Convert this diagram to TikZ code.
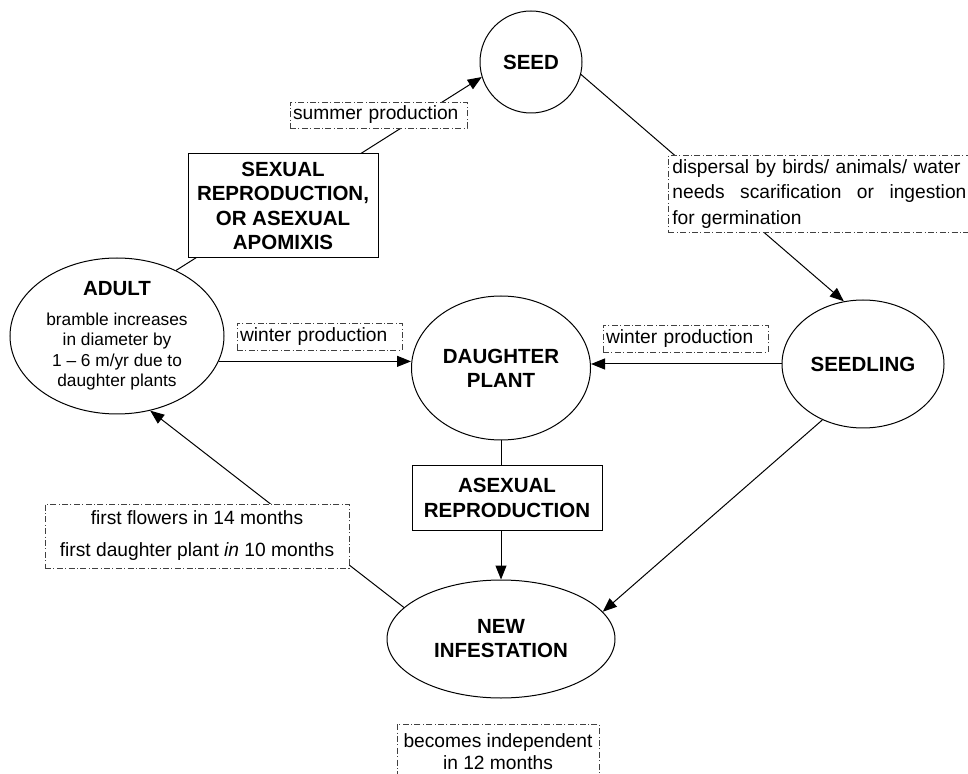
\documentclass[tikz,border=0pt]{standalone}
\usepackage{fontspec}
\setmainfont{Liberation Sans}
\usetikzlibrary{arrows.meta,shapes.geometric}

\begin{document}
\begin{tikzpicture}[x=0.5pt, y=-0.5pt, >={Triangle[length=7pt,width=5.5pt]},
	every node/.style={font=\fontsize{9.6}{11}\selectfont, inner sep=0pt},
	stage/.style={draw, ellipse, line width=0.5pt, font=\fontsize{10.25}{12}\selectfont\bfseries, align=center},
	modebox/.style={draw, fill=white, line width=0.5pt, font=\fontsize{10.25}{12.3}\selectfont\bfseries, align=center},
	notebox/.style={draw=black!75, fill=white, line width=0.4pt, dash pattern=on 3pt off 1.2pt on 0.5pt off 1.2pt, inner xsep=1.5pt}]
	\useasboundingbox (0,0) rectangle (968,774);
	\node[stage, minimum width=51pt, minimum height=51pt] (seed) at (531,62) {SEED};
	\node[stage, minimum width=81pt, minimum height=64pt] (seedling) at (863,364) {SEEDLING};
	\node[stage, minimum width=89.5pt, minimum height=72pt] (daughter) at (501,368) {DAUGHTER\\PLANT};
	\node[stage, minimum width=114pt, minimum height=59pt] (newinf) at (501,639) {NEW\\INFESTATION};
	\node[stage, minimum width=107pt, minimum height=78pt, font=\fontsize{8.65}{10.25}\selectfont] (adult) at (117,336) {{\fontsize{10.25}{12}\selectfont\bfseries ADULT}\\[4.5pt]bramble increases\\in diameter by\\1 -- 6 m/yr due to\\daughter plants};
	\draw[line width=0.5pt, ->] (adult.48) -- (seed.197);
	\draw[line width=0.5pt, ->] (seed.-14) -- (seedling.107);
	\draw[line width=0.5pt, ->] (adult.-14) -- (adult.-14 -| daughter.west);
	\draw[line width=0.5pt, ->] (seedling.west) -- (seedling.west -| daughter.east);
	\draw[line width=0.5pt, ->] (daughter.south) -- (newinf.north);
	\draw[line width=0.5pt, ->] (seedling.-126) -- (newinf.15);
	\draw[line width=0.5pt, ->] (newinf.162) -- (adult.-66);
	\node[modebox, minimum width=95pt, minimum height=52pt] (sexrep) at (283,206) {SEXUAL\\REPRODUCTION,\\OR ASEXUAL\\APOMIXIS};
	\node[modebox, minimum width=95pt, minimum height=32pt] (asexrep) at (507,498) {ASEXUAL\\REPRODUCTION};
	\node[notebox, text width=85.5pt, minimum height=13pt, align=left] (summer) at (378.5,115) {summer production};
	\node[notebox, text width=79.5pt, minimum height=13.5pt, align=left] (winterL) at (319.5,336.5) {winter production};
	\node[notebox, text width=79.5pt, minimum height=13.5pt, align=left] (winterR) at (685.5,338.5) {winter production};
	\node[notebox, anchor=west, text width=147pt, inner xsep=2pt, inner ysep=2pt, align=left, font=\fontsize{9.6}{12.75}\selectfont] (dispersal) at (668,194) {dispersal by birds/ animals/ water\\needs\hfill scarification\hfill or\hfill ingestion\\for germination};
	\node[notebox, minimum width=152pt, minimum height=32pt, align=center, font=\fontsize{9.6}{16}\selectfont] (flowers) at (197,536) {first flowers in 14 months\\first daughter plant \textit{in} 10 months};
	\node[notebox, minimum width=101pt, minimum height=28pt, align=center] (indep) at (498,752) {becomes independent\\in 12 months};
\end{tikzpicture}
\end{document}
